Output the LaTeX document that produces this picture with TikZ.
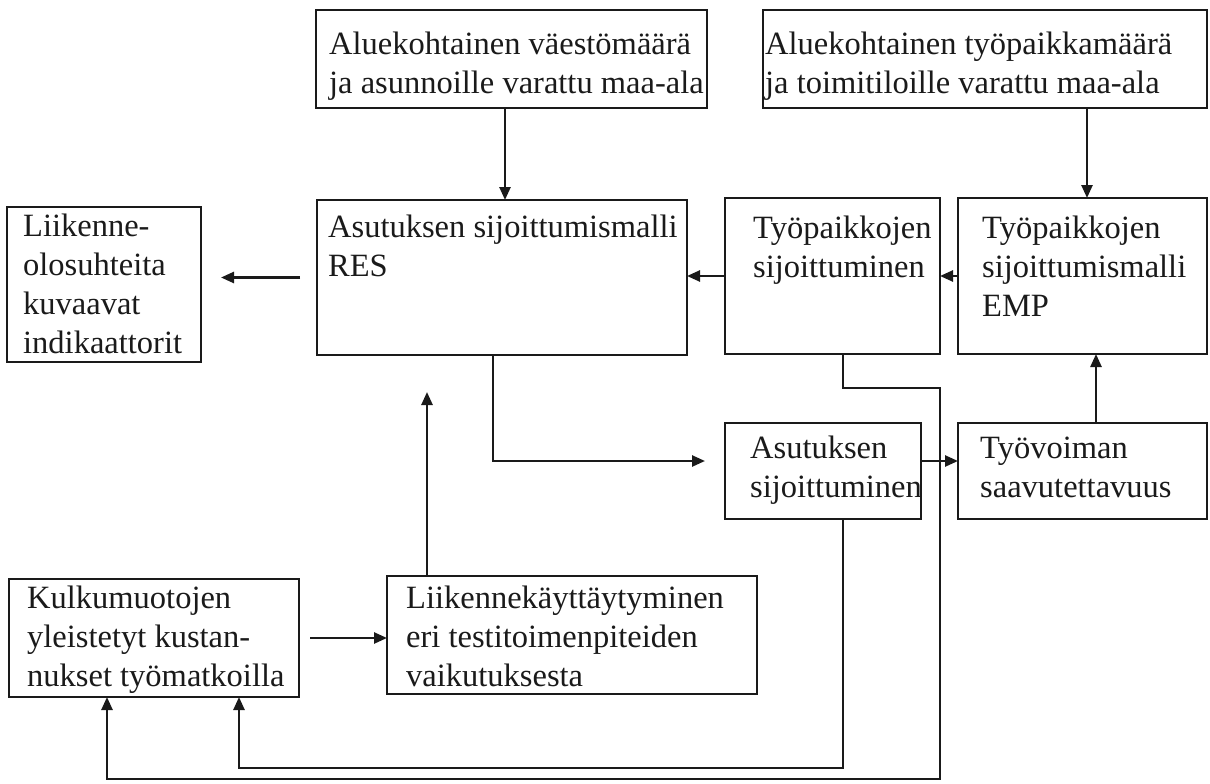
\documentclass[tikz,border=0pt]{standalone}
\usepackage{fontspec}
\setmainfont{Liberation Serif}
\usetikzlibrary{arrows.meta}
\definecolor{ink}{HTML}{1A1A1A}
\newcommand\boxtext[1]{\begin{tabular}[t]{@{}l@{}}#1\end{tabular}}
\begin{document}
\begin{tikzpicture}[x=1pt,y=-1pt,
  boxnode/.style={draw=ink, line width=2.8pt, inner sep=0pt, outer sep=0pt, anchor=north west},
  txt/.style={inner sep=0pt, anchor=base west, text=ink, font=\fontsize{32.5}{39}\selectfont},
  arr/.style={draw=ink, line width=2.5pt, -{Triangle[length=13pt,width=11pt]}}
]
\useasboundingbox[fill=white] (0,0) rectangle (1210,784);

% boxes
\node[boxnode, minimum width=391pt, minimum height=98pt] (a) at (316,10) {};
\node[boxnode, minimum width=444pt, minimum height=98pt] (b) at (763,10) {};
\node[boxnode, minimum width=194pt, minimum height=155pt] (l) at (7,207) {};
\node[boxnode, minimum width=370pt, minimum height=155pt] (res) at (317,200) {};
\node[boxnode, minimum width=215pt, minimum height=156pt] (ts) at (725,198) {};
\node[boxnode, minimum width=249pt, minimum height=156pt] (emp) at (958,198) {};
\node[boxnode, minimum width=196pt, minimum height=96pt] (asu) at (725,423) {};
\node[boxnode, minimum width=249pt, minimum height=96pt] (tv) at (958,423) {};
\node[boxnode, minimum width=290pt, minimum height=118pt] (k) at (9,579) {};
\node[boxnode, minimum width=370pt, minimum height=118pt] (lk) at (387,576) {};

% texts
\node[txt] (ta) at (329,55) {\boxtext{Aluekohtainen väestömäärä\\ja asunnoille varattu maa-ala}};
\node[txt] (tb) at (765,55) {\boxtext{Aluekohtainen työpaikkamäärä\\ja toimitiloille varattu maa-ala}};
\node[txt] (tl) at (23,236) {\boxtext{Liikenne-\\olosuhteita\\kuvaavat\\indikaattorit}};
\node[txt] (tres) at (328,237) {\boxtext{Asutuksen sijoittumismalli\\RES}};
\node[txt] (tts) at (753,238) {\boxtext{Työpaikkojen\\sijoittuminen}};
\node[txt] (temp) at (982,238) {\boxtext{Työpaikkojen\\sijoittumismalli\\EMP}};
\node[txt] (tasu) at (750,458) {\boxtext{Asutuksen\\sijoittuminen}};
\node[txt] (ttv) at (980,458) {\boxtext{Työvoiman\\saavutettavuus}};
\node[txt] (tk) at (27,608) {\boxtext{Kulkumuotojen\\yleistetyt kustan-\\nukset työmatkoilla}};
\node[txt] (tlk) at (406,608) {\boxtext{Liikennekäyttäytyminen\\eri testitoimenpiteiden\\vaikutuksesta}};

% routing columns and rows
\coordinate (colA) at (505,0);
\coordinate (colB) at (1087,0);
\coordinate (colE) at (1096,0);
\coordinate (colG) at (493,0);
\coordinate (colH) at (705,0);
\coordinate (colI) at (427,0);
\coordinate (colK) at (843,0);
\coordinate (colM) at (239,0);
\coordinate (colP) at (107,0);
\coordinate (rowF) at (0,461);
\coordinate (rowJ) at (0,392);
\coordinate (rowL) at (0,768);
\coordinate (rowN) at (0,388);
\coordinate (rowO) at (0,779);

% connectors
\draw[arr] (a.south -| colA) -- (res.north -| colA);
\draw[arr] (b.south -| colB) -- (emp.north -| colB);
\draw[arr] ([xshift=-17pt]res.west) -- ([xshift=20pt]l.east |- res.west);
\draw[arr] (ts.west) -- (res.east |- ts.west);
\draw[arr] (emp.west) -- (ts.east |- emp.west);
\draw[arr] (tv.north -| colE) -- (emp.south -| colE);
\draw[arr] (asu.east |- rowF) -- (tv.west |- rowF);
\draw[arr] (res.south -| colG) |- (colH |- rowF);
\draw[arr] (lk.north -| colI) -- (colI |- rowJ);
\draw[arr] ([xshift=11pt]k.east) -- (lk.west |- k.east);
\draw[arr] (asu.south -| colK) -- (colK |- rowL) -| (k.south -| colM);
\draw[arr] (ts.south -| colK) -- (colK |- rowN) -| (ts.east |- rowO) -| (k.south -| colP);
\end{tikzpicture}
\end{document}
